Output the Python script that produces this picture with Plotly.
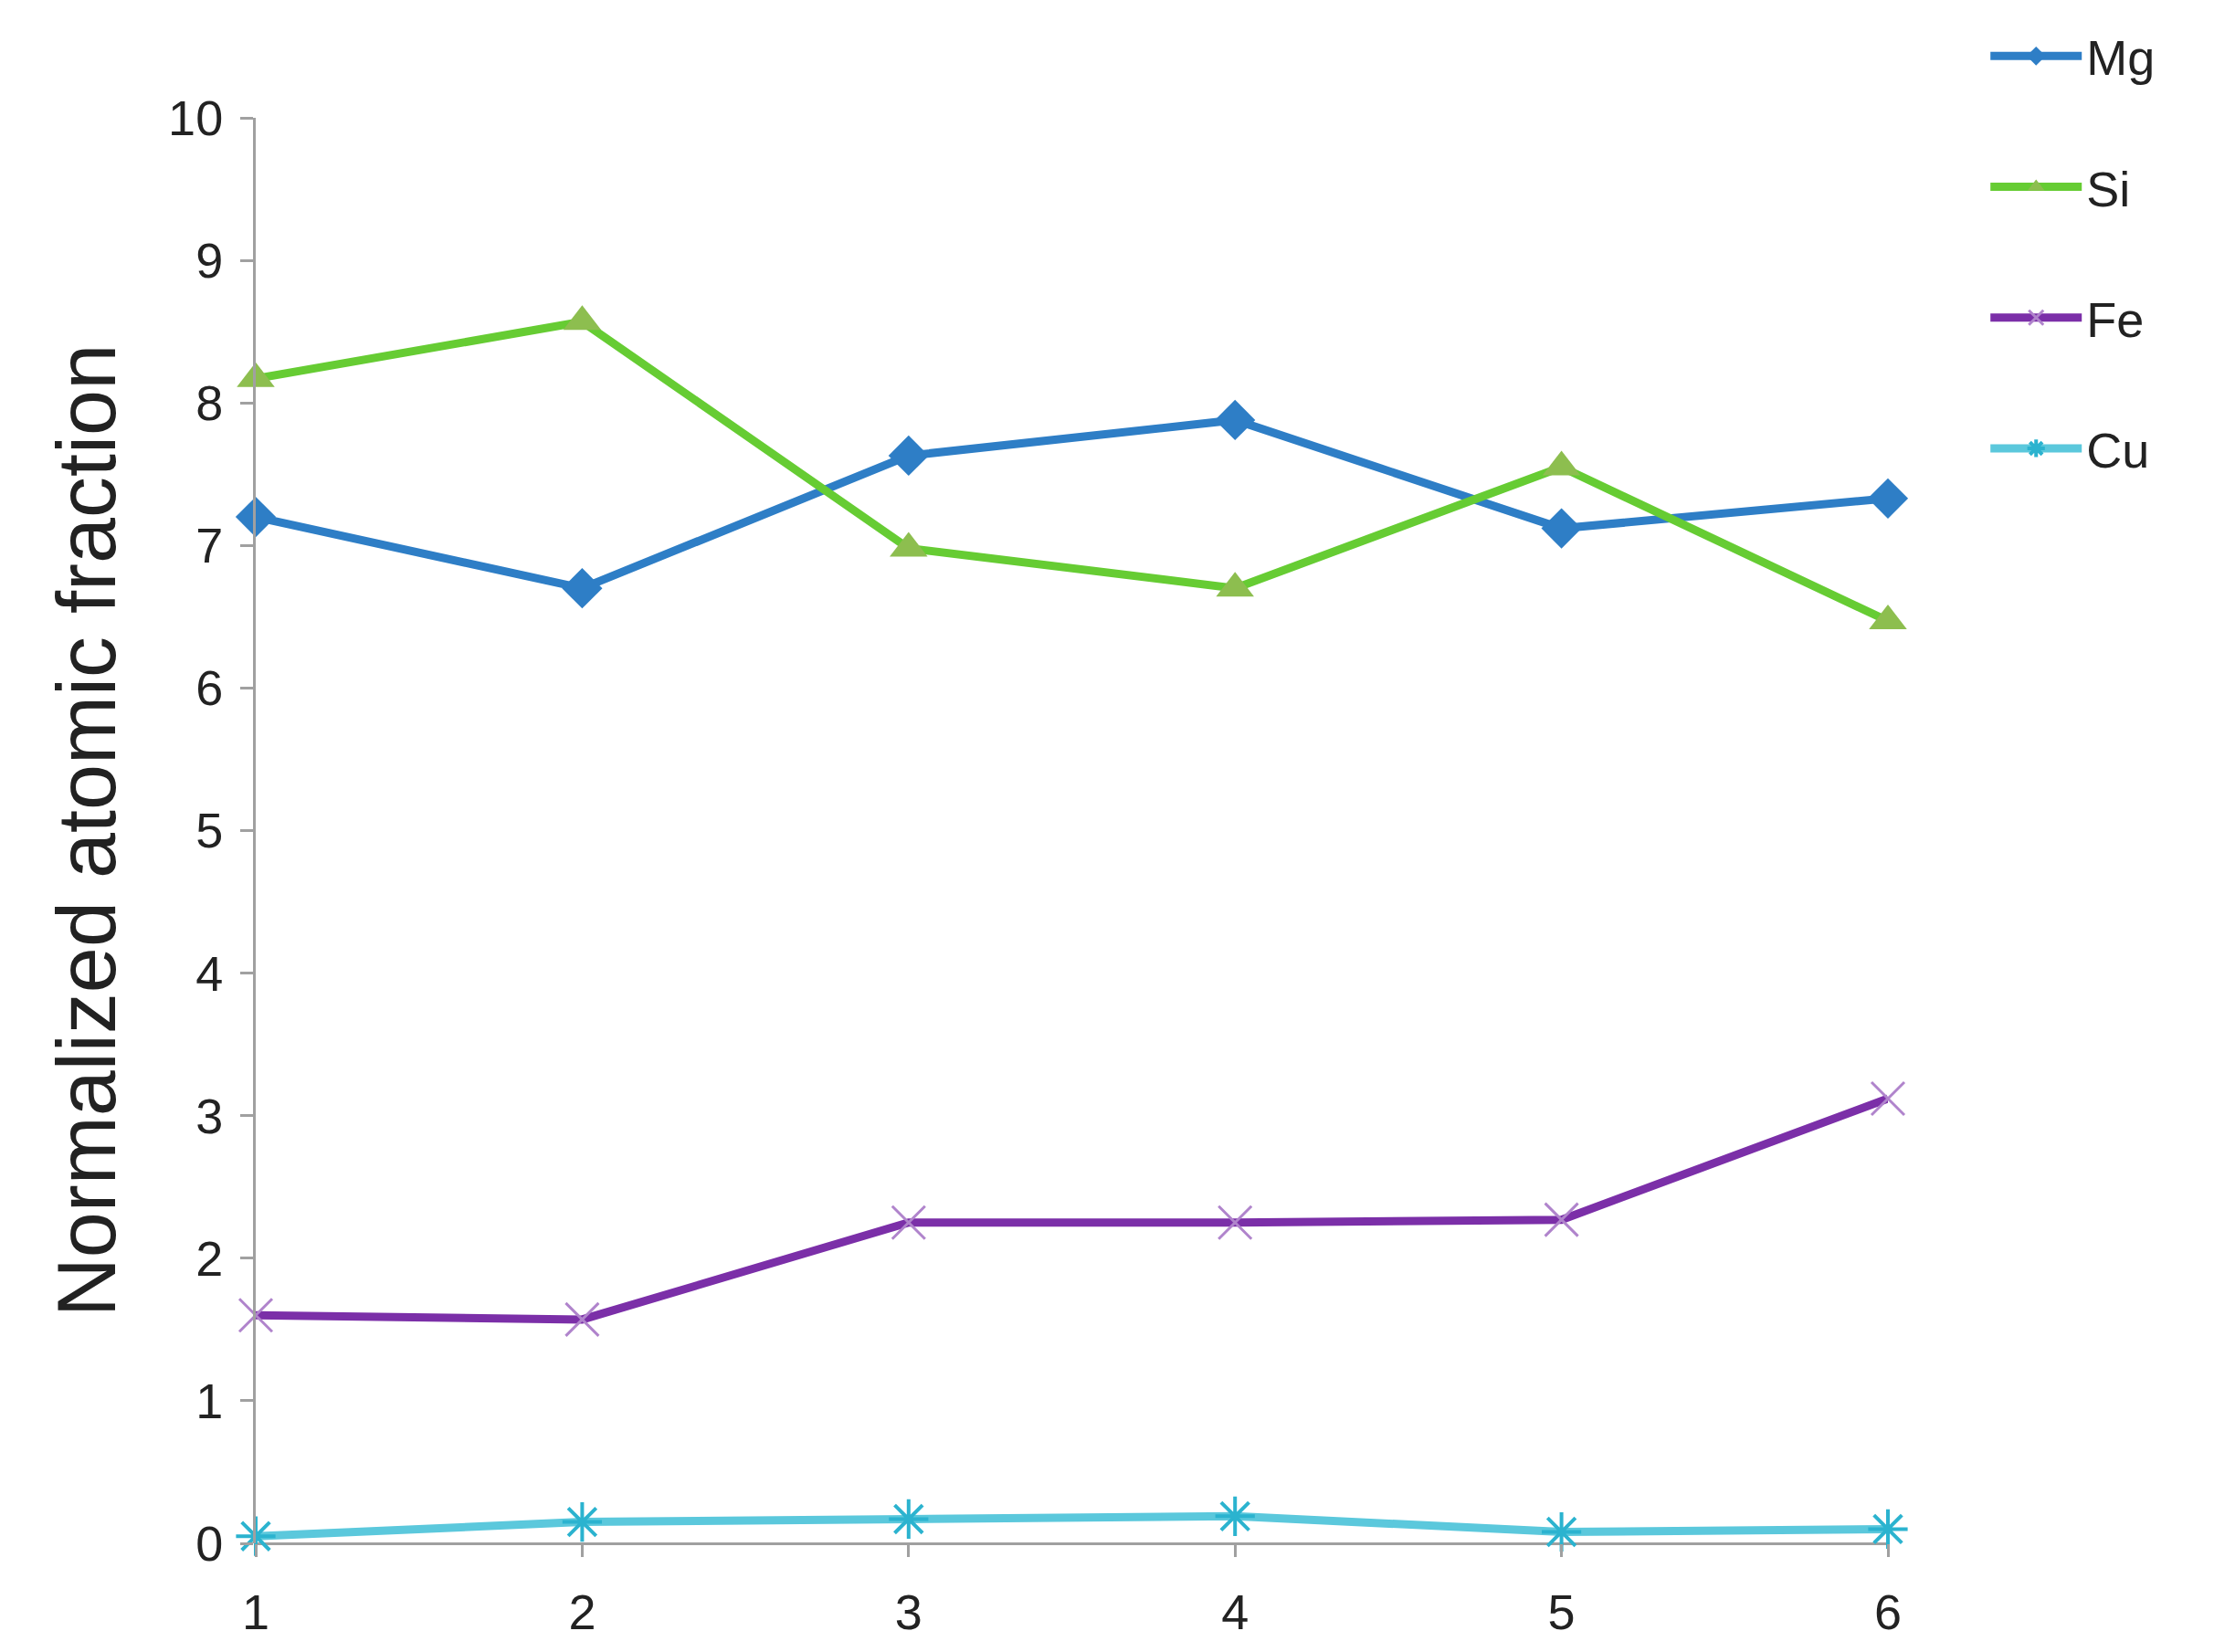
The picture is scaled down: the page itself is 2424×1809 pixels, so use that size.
import plotly.graph_objects as go

x = [1, 2, 3, 4, 5, 6]
mg = [7.2, 6.7, 7.63, 7.88, 7.12, 7.33]
si = [8.17, 8.57, 6.98, 6.7, 7.55, 6.47]
fe = [1.6, 1.57, 2.25, 2.25, 2.27, 3.12]
cu = [0.05, 0.15, 0.17, 0.19, 0.08, 0.1]

series = [
    ("Mg", mg, "#2E7EC6", dict(symbol="diamond", size=34, color="#2E7EC6")),
    ("Si", si, "#66CC33", dict(symbol="triangle-up", size=36, color="#8DBE4F")),
    ("Fe", fe, "#7B2FA8", dict(symbol="x-thin", size=36, line=dict(color="#B084CC", width=3))),
    ("Cu", cu, "#5BC8DC", dict(symbol="asterisk", size=36, line=dict(color="#2BB3CF", width=4))),
]

fig = go.Figure()
for name, y, c, m in series:
    fig.add_trace(go.Scatter(x=x, y=y, name=name, legendgroup=name, mode="lines+markers",
                             line=dict(color=c, width=9), marker=m, cliponaxis=False))

fig.update_layout(
    width=2424, height=1809, paper_bgcolor="white", plot_bgcolor="white",
    margin=dict(l=272, r=365, t=111, b=127),
    font=dict(family="Liberation Sans", color="#222", size=54),
    legend=dict(x=1.06, y=1.07, xanchor="left", yanchor="top",
                font=dict(size=54), tracegroupgap=70, itemwidth=100),
    xaxis=dict(range=[1, 6], tickvals=x, showgrid=False, showline=False,
               zeroline=False, ticks="outside", ticklen=14, tickcolor="#A0A0A0",
               tickwidth=3, ticklabelstandoff=14),
    yaxis=dict(range=[0, 10], dtick=1, showgrid=False, showline=True,
               linecolor="#A0A0A0", linewidth=3, ticks="outside", ticklen=14,
               tickcolor="#A0A0A0", tickwidth=3, zeroline=True,
               zerolinecolor="#A0A0A0", zerolinewidth=3, ticklabelstandoff=8,
               title=dict(text="Normalized atomic fraction", font=dict(size=90), standoff=28)),
)
fig.write_html("out.html")
